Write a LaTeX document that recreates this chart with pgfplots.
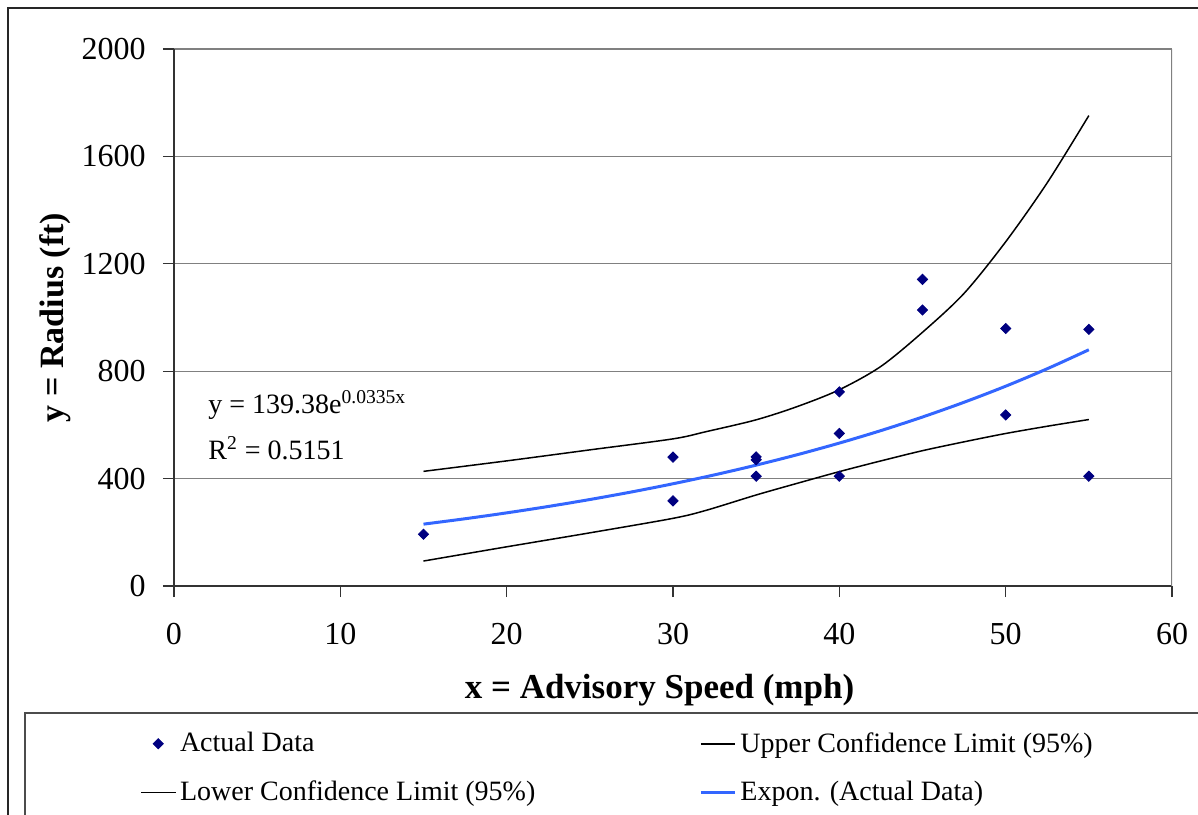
\documentclass[border=0pt]{standalone}
\usepackage{pgfplots}
\pgfplotsset{compat=1.18}
\usepackage{fontspec}
\setmainfont{Liberation Serif}
\definecolor{datanavy}{RGB}{0,0,128}
\definecolor{trendblue}{RGB}{51,102,255}
\definecolor{gridgray}{RGB}{128,128,128}

% Observed radius against advisory speed
\pgfplotstableread{
x y
15 193
30 480
30 317
35 470
35 481
35 409
40 723
40 568
40 409
45 1142
45 1028
50 959
50 637
55 956
55 409
}\actualdata

% 95% confidence band around the exponential fit
\pgfplotstableread{
x y
15 427
20 466
25 507
30 548
32 575
35 619
37.5 669
40 731
42.5 818
45 945
47.5 1090
50 1282
52.5 1502
55 1752
}\upperlimit

\pgfplotstableread{
x y
15 93
20 146
25 198
30 252
32 282
35 339
37.5 383
40 426
42.5 466
45 504
47.5 537
50 568
52.5 595
55 620
}\lowerlimit

% y = 139.38 e^{0.0335x}, tabulated
\pgfplotstableread{
x y
15 230.4
17.5 250.5
20 272.4
22.5 296.2
25 322.1
27.5 350.2
30 380.8
32.5 414.0
35 450.2
37.5 489.5
40 532.3
42.5 578.8
45 629.4
47.5 684.4
50 744.1
52.5 809.2
55 879.8
}\expfit

\begin{document}
\begin{tikzpicture}
\clip (-87pt,-114pt) rectangle (512pt,293pt);
\useasboundingbox (-87pt,-114pt) rectangle (512pt,293pt);
% chart frame and legend frame
\draw[black!85, line width=0.6pt] (-83pt,289pt) rectangle (530pt,-140pt);
\draw[black!70, line width=0.6pt] (-74.5pt,-63.5pt) rectangle (530pt,-140pt);
\begin{axis}[
  at={(0pt,0pt)}, anchor=south west,
  scale only axis, width=499pt, height=268.5pt,
  xmin=0, xmax=60, ymin=0, ymax=2000,
  xtick={0,10,...,60}, ytick={0,400,...,2000},
  axis lines=left, axis line style={-, black!80, line width=0.6pt},
  tick align=outside, major tick length=5.5pt,
  tick style={black!80, line width=0.6pt},
  ymajorgrids, grid style={gridgray, line width=0.6pt},
  tick label style={font=\fontsize{16}{19}\selectfont},
  /pgf/number format/assume math mode=true,
  scaled ticks=false, /pgf/number format/1000 sep={},
  xticklabel style={inner sep=0pt, yshift=-13pt},
  yticklabel style={inner sep=0pt, xshift=-8.5pt},
  xlabel={x = Advisory Speed (mph)}, ylabel={y = Radius (ft)},
  xlabel style={at={(axis description cs:0.4865,-0.1937)}, anchor=center, inner sep=0pt, font=\bfseries\fontsize{17.5}{20}\selectfont},
  ylabel style={at={(axis description cs:-0.1192,0.5)}, anchor=center, inner sep=0pt, font=\bfseries\fontsize{17}{20}\selectfont},
  legend columns=2, legend cell align=left,
  legend style={draw=none, fill=none, at={(axis description cs:-0.0341,-0.2644)}, anchor=north west,
    font=\fontsize{14}{16}\selectfont, inner sep=0pt, row sep=9pt,
    /tikz/every even column/.append style={column sep=80pt}},
]
\addplot[only marks, mark=square*, mark size=1.8pt, mark options={rotate=45, fill=datanavy, draw=datanavy}] table {\actualdata};
\addlegendentry{Actual Data}
\addplot[black, line width=0.75pt, smooth] table {\upperlimit};
\addlegendentry{Upper Confidence Limit (95\%)}
\addplot[black, line width=0.75pt, smooth] table {\lowerlimit};
\addlegendentry{Lower Confidence Limit (95\%)}
\addplot[trendblue, line width=1.5pt, smooth] table {\expfit};
\addlegendentry{Expon. (Actual Data)}
\draw[gridgray, line width=0.6pt] (rel axis cs:1,0) -- (rel axis cs:1,1);
\node[anchor=west, inner sep=0pt, font=\fontsize{14}{16}\selectfont] at (axis cs:2.04,674) {y = 139.38e\textsuperscript{0.0335x}};
\node[anchor=west, inner sep=0pt, font=\fontsize{14}{16}\selectfont] at (axis cs:2.04,514) {R\textsuperscript{2} = 0.5151};
\end{axis}
\end{tikzpicture}
\end{document}
